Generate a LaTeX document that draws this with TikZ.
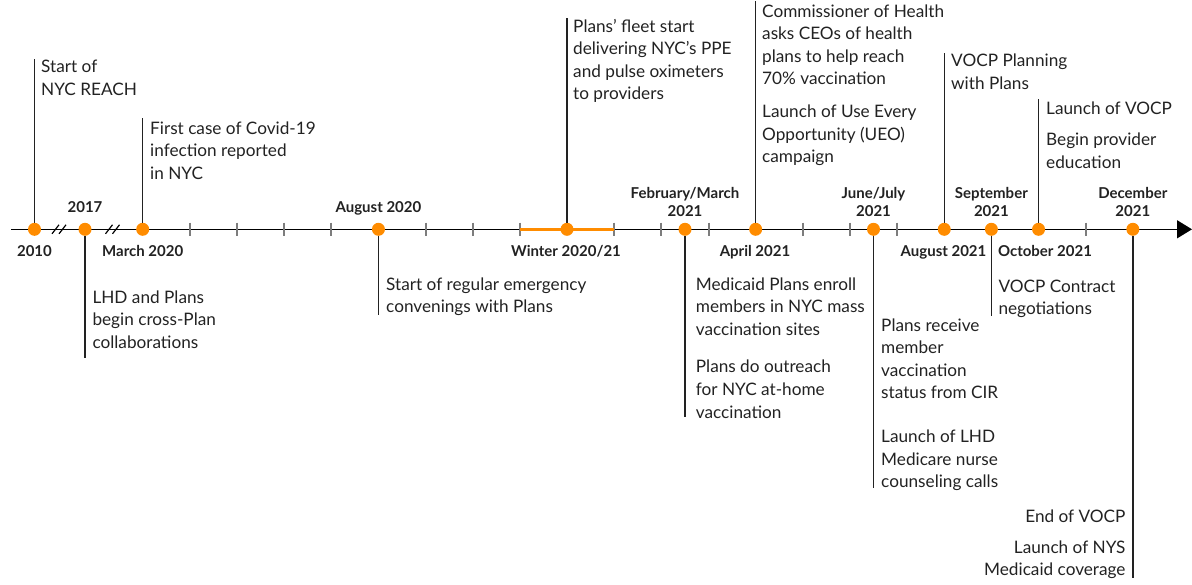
\documentclass[tikz,border=0pt]{standalone}
\usepackage{fontspec}
\setmainfont{Lato}
\usetikzlibrary{arrows.meta}
\definecolor{dotorange}{RGB}{255,140,0}
\definecolor{txt}{RGB}{34,34,34}
\definecolor{tickgray}{RGB}{125,125,125}
\newcommand\lft[1]{\begin{tabular}[t]{@{}l@{}}#1\end{tabular}}
\newcommand\rgt[1]{\begin{tabular}[t]{@{}r@{}}#1\end{tabular}}
\newcommand\dte[1]{\begin{tabular}[b]{@{}c@{}}#1\end{tabular}}
\begin{document}
\begin{tikzpicture}[x=1pt,y=-1pt,
  evt/.style={inner sep=0pt, anchor=base west, text=txt, font=\fontsize{17.2}{22.6}\selectfont},
  evtr/.style={evt, anchor=base east},
  date/.style={inner sep=0pt, anchor=base, text=txt, font=\fontsize{15}{17.5}\selectfont\bfseries},
  dot/.style={circle, fill=dotorange, inner sep=0pt, minimum size=13pt},
  stem/.style={draw=txt, line width=1.3pt},
  tickmark/.style={draw=tickgray, line width=2pt},
  brk/.style={draw=black, line width=1.2pt},
]
\useasboundingbox (0,0) rectangle (1192,584);
\def\ay{229.3}
% axis
\coordinate (ax0) at (11,\ay);
\coordinate (axend) at (1192,\ay);
\draw[line width=1.5pt, -{Triangle[length=15pt,width=18pt]}] (ax0) -- (axend);
% ticks
\foreach \tx in {189.85,237,284.15,331.3,425.6,472.75,519.9,614.2,661.35,708.5,802.8,849.95,897.1,1085.7}
  \draw[tickmark] (\tx,\ay-6.7) -- (\tx,\ay+6.7);
% winter span
\coordinate (w0) at (519.9,\ay);
\coordinate (w1) at (614.2,\ay);
\draw[dotorange, line width=3pt] (w0) -- (w1);
% breaks
\foreach \bx in {60,113.5}{
  \draw[brk] (\bx-8,\ay+4.5) -- (\bx-1,\ay-4.5);
  \draw[brk] (\bx-1,\ay+4.5) -- (\bx+6,\ay-4.5);
}
% stem end coordinates
\coordinate (t2010) at (34.5,59);
\coordinate (b2017) at (85,358);
\coordinate (tmar20) at (142.7,118);
\coordinate (baug20) at (378.45,315);
\coordinate (twin) at (567,18);
\coordinate (bfeb21) at (685,417);
\coordinate (tapr21) at (755.65,1);
\coordinate (bjun21) at (873.5,488);
\coordinate (taug21) at (944.25,53);
\coordinate (bsep21) at (991.4,316);
\coordinate (toct21) at (1038.55,99);
\coordinate (bdec21) at (1132.85,578);
% dots
\node[dot] (d2010) at (34.5,\ay) {};
\node[dot] (d2017) at (85,\ay) {};
\node[dot] (dmar20) at (142.7,\ay) {};
\node[dot] (daug20) at (378.45,\ay) {};
\node[dot] (dwin) at (567,\ay) {};
\node[dot] (dfeb21) at (685,\ay) {};
\node[dot] (dapr21) at (755.65,\ay) {};
\node[dot] (djun21) at (873.5,\ay) {};
\node[dot] (daug21) at (944.25,\ay) {};
\node[dot] (dsep21) at (991.4,\ay) {};
\node[dot] (doct21) at (1038.55,\ay) {};
\node[dot] (ddec21) at (1132.85,\ay) {};
% stems
\draw[stem] (d2010.north) -- (t2010);
\draw[stem] (d2017.south) -- (b2017);
\draw[stem] (dmar20.north) -- (tmar20);
\draw[stem] (daug20.south) -- (baug20);
\draw[stem] (dwin.north) -- (twin);
\draw[stem] (dfeb21.south) -- (bfeb21);
\draw[stem] (dapr21.north) -- (tapr21);
\draw[stem] (djun21.south) -- (bjun21);
\draw[stem] (daug21.north) -- (taug21);
\draw[stem] (dsep21.south) -- (bsep21);
\draw[stem] (doct21.north) -- (toct21);
\draw[stem] (ddec21.south) -- (bdec21);
% date labels
\node[date] (l2010) at (34.5,256) {2010};
\node[date] (l2017) at (85,212.3) {2017};
\node[date] (lmar20) at (142.7,256) {March 2020};
\node[date] (laug20) at (378.45,212.3) {August 2020};
\node[date] (lwin) at (566,256) {Winter 2020/21};
\node[date] (lfeb21) at (685,216) {\dte{February/March\\2021}};
\node[date] (lapr21) at (755,256) {April 2021};
\node[date] (ljun21) at (873.5,216) {\dte{June/July\\2021}};
\node[date] (laug21) at (943.5,256) {August 2021};
\node[date] (lsep21) at (991.4,216) {\dte{September\\2021}};
\node[date] (loct21) at (1045,256) {October 2021};
\node[date] (ldec21) at (1132.85,216) {\dte{December\\2021}};
% event texts
\node[evt] (e2010) at (41,72.7) {\lft{Start of\\NYC REACH}};
\node[evt] (emar20) at (150,134) {\lft{First case of Covid-19\\infection reported\\in NYC}};
\node[evt] (ewin) at (573,32) {\lft{Plans’ fleet start\\delivering NYC’s PPE\\and pulse oximeters\\to providers}};
\node[evt] (eapr21) at (762,17) {\lft{Commissioner of Health\\asks CEOs of health\\plans to help reach\\70\% vaccination\\[10pt]Launch of Use Every\\Opportunity (UEO)\\campaign}};
\node[evt] (eaug21) at (951,66.7) {\lft{VOCP Planning\\with Plans}};
\node[evt] (eoct21) at (1046,114) {\lft{Launch of VOCP\\[9pt]Begin provider\\education}};
\node[evt] (e2017) at (92.3,303.3) {\lft{LHD and Plans\\begin cross-Plan\\collaborations}};
\node[evt] (eaug20) at (386,290) {\lft{Start of regular emergency\\convenings with Plans}};
\node[evt] (efeb21) at (695.7,290) {\lft{Medicaid Plans enroll\\members in NYC mass\\vaccination sites\\[15pt]Plans do outreach\\for NYC at-home\\vaccination}};
\node[evt] (ejun21) at (881,331) {\lft{Plans receive\\member\\vaccination\\status from CIR\\[21pt]Launch of LHD\\Medicare nurse\\counseling calls}};
\node[evt] (esep21) at (998.3,292.3) {\lft{VOCP Contract\\negotiations}};
\node[evtr] (edec21) at (1125.7,522.7) {\rgt{End of VOCP\\[8pt]Launch of NYS\\Medicaid coverage}};
\end{tikzpicture}
\end{document}
